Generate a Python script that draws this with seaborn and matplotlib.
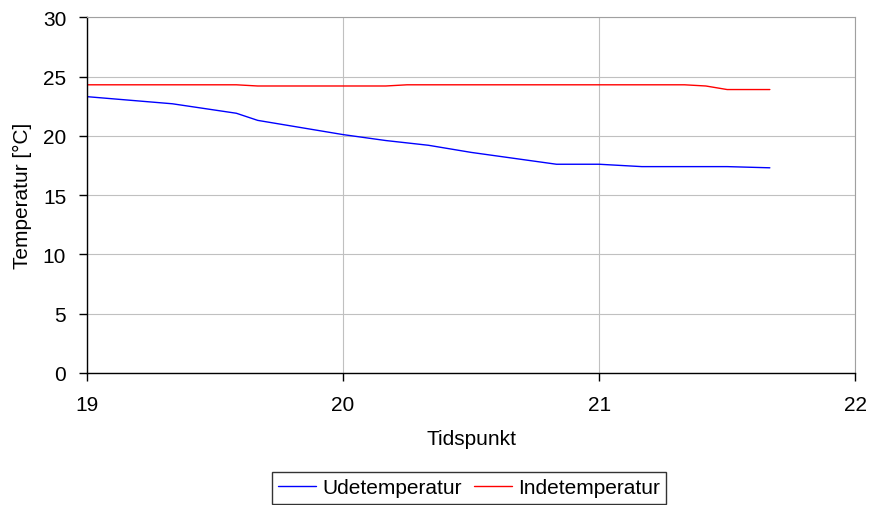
import numpy as np
import pandas as pd
import matplotlib.pyplot as plt
import seaborn as sns

minutes = [0, 10, 20, 35, 40, 50, 60, 70, 75, 80, 90, 100, 110, 120, 130, 140, 145, 150, 160]
ude = [23.3, 23.0, 22.7, 21.9, 21.3, 20.7, 20.1, 19.6, 19.4, 19.2, 18.6, 18.1, 17.6, 17.6, 17.4, 17.4, 17.4, 17.4, 17.3]
inde = [24.3, 24.3, 24.3, 24.3, 24.2, 24.2, 24.2, 24.2, 24.3, 24.3, 24.3, 24.3, 24.3, 24.3, 24.3, 24.3, 24.2, 23.9, 23.9]

hours = 19 + np.array(minutes) / 60.0

df = pd.DataFrame({
    'Tid': np.concatenate([hours, hours]),
    'Temp': ude + inde,
    'Serie': ['Udetemperatur'] * len(ude) + ['Indetemperatur'] * len(inde),
})

sns.set_style('white')
plt.rcParams['font.family'] = ['Liberation Sans', 'DejaVu Sans']
plt.rcParams['text.color'] = 'black'
plt.rcParams['axes.labelcolor'] = 'black'
plt.rcParams['xtick.color'] = 'black'
plt.rcParams['ytick.color'] = 'black'

fig = plt.figure(figsize=(8.7, 5.06), dpi=100)
ax = fig.add_axes([0.1, 0.261, 0.883, 0.703])

sns.lineplot(data=df, x='Tid', y='Temp', hue='Serie',
             palette={'Udetemperatur': '#0000ff', 'Indetemperatur': '#ff0000'},
             linewidth=1, ax=ax, legend=True)

ax.set_xlim(19, 22)
ax.set_ylim(0, 30)
ax.set_xticks([19, 20, 21, 22])
ax.set_yticks(np.arange(0, 31, 5))
ax.grid(True, color='#c0c0c0', linewidth=0.8)
ax.set_axisbelow(True)

for s in ['top', 'right']:
    ax.spines[s].set_color('#a0a0a0')
    ax.spines[s].set_linewidth(0.8)
for s in ['left', 'bottom']:
    ax.spines[s].set_color('black')
    ax.spines[s].set_linewidth(1)

ax.tick_params(axis='both', direction='out', length=6, width=1, color='black',
               labelsize=15, bottom=True, left=True)
ax.tick_params(axis='x', pad=10)
ax.tick_params(axis='y', pad=9)
ax.set_xlabel('Tidspunkt', fontsize=15, labelpad=11)
ax.set_ylabel('Temperatur [°C]', fontsize=15, labelpad=8)

leg = ax.legend(loc='upper center', bbox_to_anchor=(469 / 870, 1 - 473 / 506),
                bbox_transform=fig.transFigure, ncol=2, borderaxespad=0,
                frameon=True, fancybox=False, fontsize=15, handlelength=1.8,
                borderpad=0.3, columnspacing=0.6, handletextpad=0.3)
leg.get_frame().set_edgecolor('black')
leg.get_frame().set_linewidth(1)

fig.savefig('out.png', dpi=100)
